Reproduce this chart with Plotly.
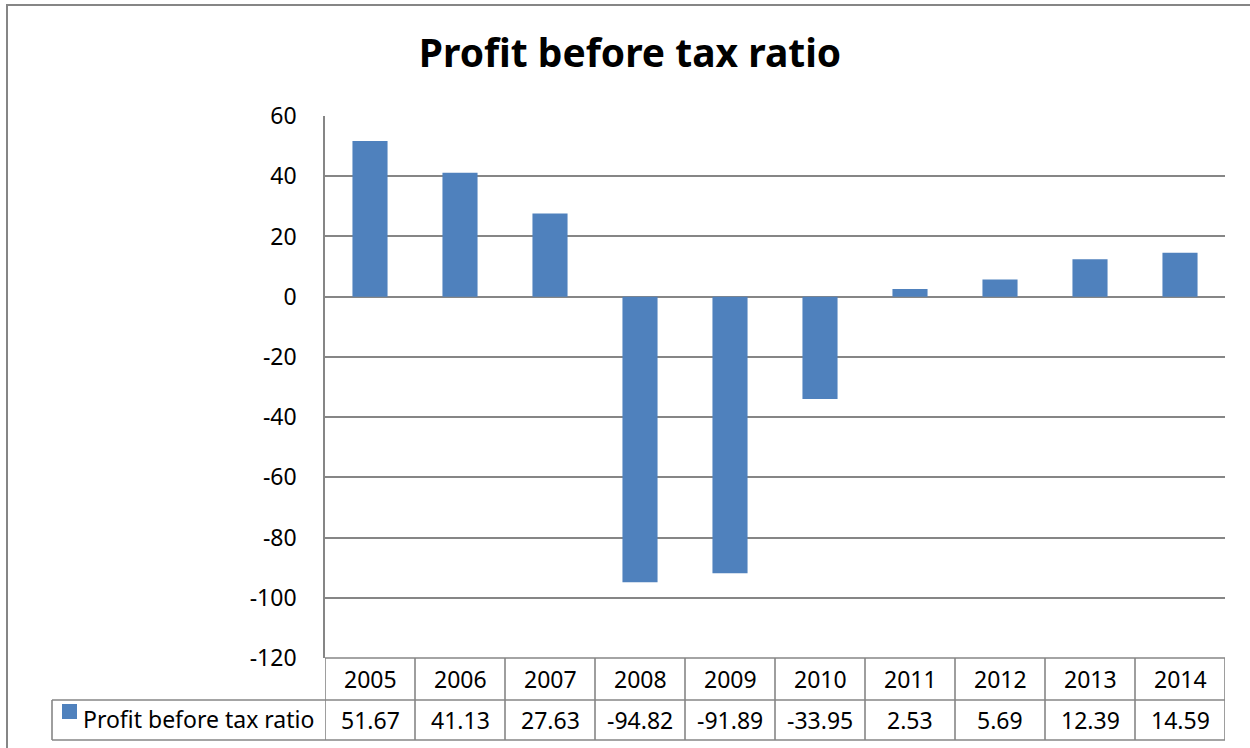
import plotly.graph_objects as go

# Chart data
years = ["2005", "2006", "2007", "2008", "2009", "2010", "2011", "2012", "2013", "2014"]
values = [51.67, 41.13, 27.63, -94.82, -91.89, -33.95, 2.53, 5.69, 12.39, 14.59]
series_name = "Profit before tax ratio"
y_ticks = [60, 40, 20, 0, -20, -40, -60, -80, -100, -120]

W, H = 1250, 748
ML, MR, MT, MB = 325, 25, 116, 90
PW, PH = W - ML - MR, H - MT - MB

BAR = "#4F81BD"
GRID = "#868686"
LW = 1.6
FONT = "Noto Sans"


def px_x(x):
    return (x - ML) / PW


def px_y(y):
    return (H - MB - y) / PH


fig = go.Figure(
    go.Bar(
        x=list(range(len(years))),
        y=values,
        name=series_name,
        marker=dict(color=BAR, line=dict(width=0)),
        width=0.39,
        showlegend=False,
    )
)

shapes = []
annotations = []

row_top, row_mid, row_bot = 658, 700, 740

# data table: horizontal rules
shapes.append(dict(type="line", xref="paper", yref="paper",
                   x0=px_x(ML), x1=px_x(ML + PW), y0=px_y(row_top), y1=px_y(row_top),
                   line=dict(color=GRID, width=LW)))
for yy in (row_mid, row_bot):
    shapes.append(dict(type="line", xref="paper", yref="paper",
                       x0=px_x(52), x1=px_x(ML + PW), y0=px_y(yy), y1=px_y(yy),
                       line=dict(color=GRID, width=LW)))
# data table: column separators on the category scale
for i in range(len(years) + 1):
    shapes.append(dict(type="line", xref="x", yref="paper",
                       x0=i - 0.5, x1=i - 0.5, y0=px_y(row_top), y1=px_y(row_bot),
                       line=dict(color=GRID, width=LW)))
# legend cell left edge
shapes.append(dict(type="line", xref="paper", yref="paper",
                   x0=px_x(52), x1=px_x(52), y0=px_y(row_mid), y1=px_y(row_bot),
                   line=dict(color=GRID, width=LW)))
# legend key
shapes.append(dict(type="rect", xref="paper", yref="paper",
                   x0=px_x(62), x1=px_x(77), y0=px_y(704), y1=px_y(719),
                   fillcolor=BAR, line=dict(width=0)))
# chart frame
shapes.append(dict(type="rect", xref="paper", yref="paper",
                   x0=px_x(7), x1=px_x(W + 20), y0=px_y(5), y1=px_y(H + 20),
                   line=dict(color=GRID, width=2), fillcolor="rgba(0,0,0,0)", layer="below"))

cell_font = dict(family=FONT, size=23, color="#000000")
for i, (yr, v) in enumerate(zip(years, values)):
    annotations.append(dict(xref="x", yref="paper", x=i, y=px_y((row_top + row_mid) / 2),
                            text=yr, showarrow=False, font=cell_font,
                            xanchor="center", yanchor="middle"))
    annotations.append(dict(xref="x", yref="paper", x=i, y=px_y((row_mid + row_bot) / 2),
                            text=f"{v:.2f}", showarrow=False, font=cell_font,
                            xanchor="center", yanchor="middle"))
annotations.append(dict(xref="paper", yref="paper", x=px_x(81), y=px_y(719),
                        text=series_name, showarrow=False, font=cell_font,
                        xanchor="left", yanchor="middle"))

fig.update_layout(
    width=W, height=H,
    margin=dict(l=ML, r=MR, t=MT, b=MB, pad=0),
    paper_bgcolor="white", plot_bgcolor="white",
    title=dict(text="<b>Profit before tax ratio</b>", xref="container", yref="container",
               x=630 / W, y=1 - 53 / H, xanchor="center", yanchor="middle",
               font=dict(family=FONT, size=39, color="#000000")),
    xaxis=dict(range=[-0.5, len(years) - 0.5], showticklabels=False, showgrid=False,
               zeroline=False, showline=False, fixedrange=True),
    yaxis=dict(range=[-120, 60], tickvals=y_ticks, ticktext=[str(t) for t in y_ticks],
               showgrid=True, gridcolor=GRID, gridwidth=LW,
               zeroline=True, zerolinecolor=GRID, zerolinewidth=LW,
               showline=True, linecolor=GRID, linewidth=LW,
               ticks="", ticklabelstandoff=22,
               tickfont=dict(family=FONT, size=23, color="#000000")),
    shapes=shapes,
    annotations=annotations,
    bargap=0.61,
)

fig.write_html("out.html")
